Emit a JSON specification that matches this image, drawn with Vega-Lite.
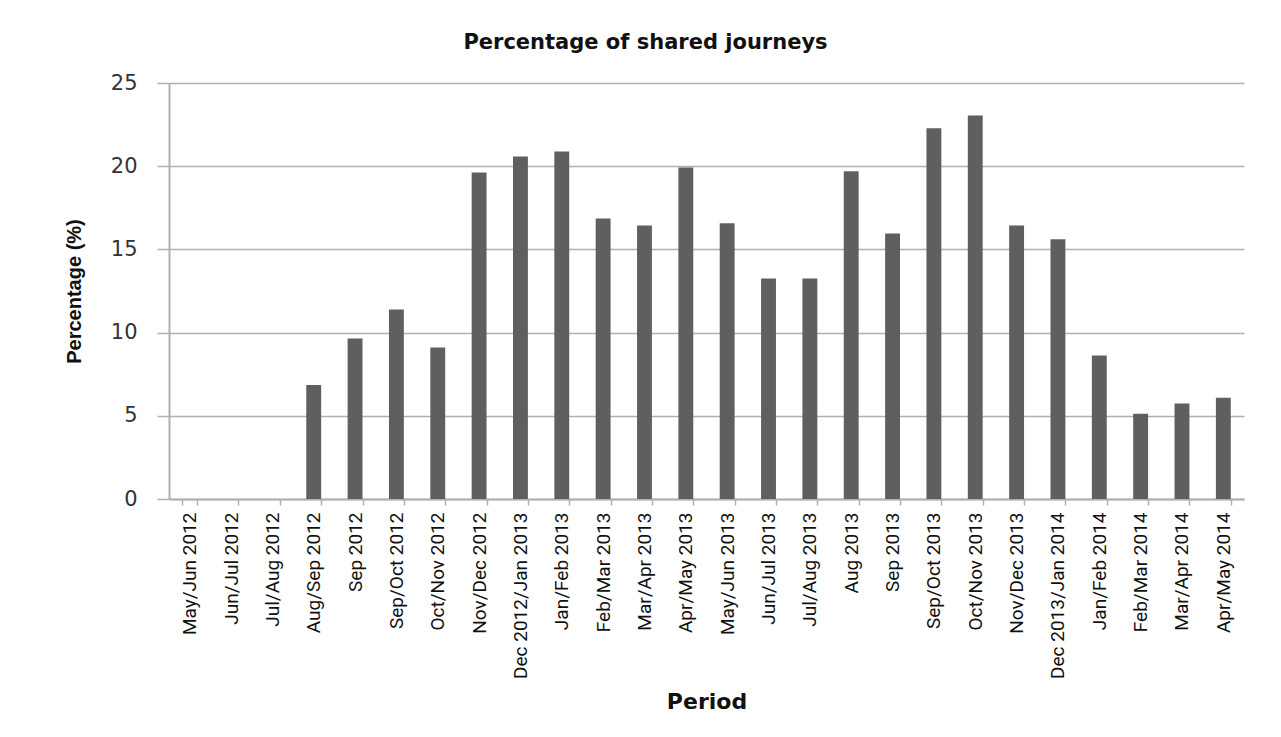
{
  "$schema": "https://vega.github.io/schema/vega-lite/v6.json",
  "width": 1075,
  "height": 416,
  "autosize": "none",
  "padding": {"left": 169, "top": 83, "right": 37, "bottom": 238},
  "background": "white",
  "title": {
    "text": "Percentage of shared journeys",
    "font": "DejaVu Sans",
    "fontSize": 21,
    "fontWeight": "bold",
    "color": "#111111",
    "dx": -61,
    "offset": 19
  },
  "data": {
    "values": [
      {"period": "May/Jun 2012", "pct": 0},
      {"period": "Jun/Jul 2012", "pct": 0},
      {"period": "Jul/Aug 2012", "pct": 0},
      {"period": "Aug/Sep 2012", "pct": 6.85},
      {"period": "Sep 2012", "pct": 9.65},
      {"period": "Sep/Oct 2012", "pct": 11.39},
      {"period": "Oct/Nov 2012", "pct": 9.11},
      {"period": "Nov/Dec 2012", "pct": 19.62},
      {"period": "Dec 2012/Jan 2013", "pct": 20.58},
      {"period": "Jan/Feb 2013", "pct": 20.88},
      {"period": "Feb/Mar 2013", "pct": 16.85},
      {"period": "Mar/Apr 2013", "pct": 16.43},
      {"period": "Apr/May 2013", "pct": 19.92},
      {"period": "May/Jun 2013", "pct": 16.57},
      {"period": "Jun/Jul 2013", "pct": 13.25},
      {"period": "Jul/Aug 2013", "pct": 13.25},
      {"period": "Aug 2013", "pct": 19.7},
      {"period": "Sep 2013", "pct": 15.95},
      {"period": "Sep/Oct 2013", "pct": 22.28},
      {"period": "Oct/Nov 2013", "pct": 23.04},
      {"period": "Nov/Dec 2013", "pct": 16.43},
      {"period": "Dec 2013/Jan 2014", "pct": 15.61},
      {"period": "Jan/Feb 2014", "pct": 8.63},
      {"period": "Feb/Mar 2014", "pct": 5.12},
      {"period": "Mar/Apr 2014", "pct": 5.74},
      {"period": "Apr/May 2014", "pct": 6.08}
    ]
  },
  "mark": {"type": "bar", "color": "#5f5f5f"},
  "encoding": {
    "x": {
      "field": "period",
      "type": "nominal",
      "sort": null,
      "scale": {"paddingInner": 0.64, "paddingOuter": 0.32},
      "axis": {
        "title": "Period",
        "titleFont": "DejaVu Sans",
        "titleFontSize": 22,
        "titleFontWeight": "bold",
        "titleColor": "#111111",
        "titlePadding": 13,
        "labelAngle": -90,
        "labelAlign": "right",
        "labelBaseline": "middle",
        "labelFont": "Roboto",
        "labelFontSize": 19,
        "labelColor": "#111111",
        "labelPadding": 7,
        "labelOverlap": false,
        "tickBand": "extent",
        "tickSize": 6,
        "tickColor": "#b0b0b0",
        "tickWidth": 1.5,
        "domainColor": "#b0b0b0",
        "domainWidth": 2,
        "grid": false
      }
    },
    "y": {
      "field": "pct",
      "type": "quantitative",
      "scale": {"domain": [0, 25], "nice": false},
      "axis": {
        "title": "Percentage (%)",
        "titleFont": "Liberation Sans",
        "titleFontSize": 20,
        "titleFontWeight": "bold",
        "titleColor": "#111111",
        "titlePadding": 26,
        "values": [0, 5, 10, 15, 20, 25],
        "labelFont": "DejaVu Sans",
        "labelFontSize": 21,
        "labelColor": "#333333",
        "labelPadding": 20,
        "tickSize": 12,
        "tickColor": "#b0b0b0",
        "tickWidth": 1.5,
        "domainColor": "#b0b0b0",
        "domainWidth": 2,
        "grid": true,
        "gridColor": "#b0b0b0",
        "gridWidth": 1.5
      }
    }
  },
  "config": {"view": {"stroke": null}}
}
